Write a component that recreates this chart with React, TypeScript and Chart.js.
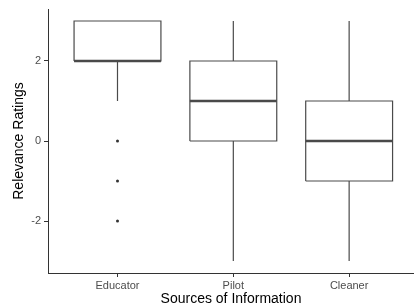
import React, { useEffect, useRef } from 'react';
import { Chart, registerables } from 'chart.js';

Chart.register(...registerables);

const categories = ['Educator', 'Pilot', 'Cleaner'];
const lowerWhisker = [1, -3, -3];
const q1 = [2, 0, -1];
const median = [2, 1, 0];
const q3 = [3, 2, 1];
const upperWhisker = [3, 3, 3];
const outliers: number[][] = [[0, -1, -2], [], []];
const yTicks = [-2, 0, 2];

const BOX_HALF = 0.375;
const LINE = '#4a4a4a';

export default function App() {
  const ref = useRef<HTMLCanvasElement | null>(null);

  useEffect(() => {
    document.body.style.margin = '0';
    if (!ref.current) return;

    const datasets: any[] = [];
    const lineDs = (data: { x: number; y: number }[], width: number) => ({
      type: 'scatter',
      data,
      showLine: true,
      borderColor: LINE,
      backgroundColor: LINE,
      borderWidth: width,
      pointRadius: 0,
      pointHoverRadius: 0,
      fill: false,
      tension: 0,
    });

    categories.forEach((_, i) => {
      const l = i - BOX_HALF;
      const r = i + BOX_HALF;
      datasets.push(
        lineDs(
          [
            { x: l, y: q1[i] },
            { x: r, y: q1[i] },
            { x: r, y: q3[i] },
            { x: l, y: q3[i] },
            { x: l, y: q1[i] },
          ],
          1.2
        )
      );
      datasets.push(
        lineDs(
          [
            { x: l, y: median[i] },
            { x: r, y: median[i] },
          ],
          2.6
        )
      );
      if (lowerWhisker[i] < q1[i]) {
        datasets.push(
          lineDs(
            [
              { x: i, y: lowerWhisker[i] },
              { x: i, y: q1[i] },
            ],
            1.2
          )
        );
      }
      if (upperWhisker[i] > q3[i]) {
        datasets.push(
          lineDs(
            [
              { x: i, y: q3[i] },
              { x: i, y: upperWhisker[i] },
            ],
            1.2
          )
        );
      }
    });

    datasets.push({
      type: 'scatter',
      data: outliers.flatMap((arr, i) => arr.map((v) => ({ x: i, y: v }))),
      backgroundColor: '#333333',
      borderColor: '#333333',
      borderWidth: 0,
      pointRadius: 1.5,
      showLine: false,
    });

    const font = "'Liberation Sans', Arial, sans-serif";

    const chart = new Chart(ref.current, {
      type: 'scatter',
      data: { datasets },
      options: {
        animation: false,
        responsive: true,
        maintainAspectRatio: false,
        layout: { autoPadding: false, padding: { top: 9, left: 0, right: 0, bottom: 0 } },
        plugins: {
          legend: { display: false },
          tooltip: { enabled: false },
        },
        scales: {
          x: {
            type: 'linear',
            min: -0.6,
            max: 2.56,
            afterBuildTicks: (s: any) => {
              s.ticks = categories.map((_, i) => ({ value: i }));
            },
            afterFit: (s: any) => {
              s.height = 34;
            },
            ticks: {
              autoSkip: false,
              maxRotation: 0,
              padding: 2,
              color: '#4d4d4d',
              font: { family: font, size: 11 },
              callback: (v: any) => categories[v as number] ?? '',
            },
            grid: {
              display: true,
              drawOnChartArea: false,
              drawTicks: true,
              tickLength: 4,
              color: '#333333',
            },
            border: { display: true, color: '#333333', width: 1 },
            title: {
              display: true,
              text: 'Sources of Information',
              color: '#000000',
              font: { family: font, size: 14, lineHeight: 1.2 },
              padding: { top: 0, bottom: -1 },
            },
          },
          y: {
            type: 'linear',
            min: -3.3,
            max: 3.3,
            afterBuildTicks: (s: any) => {
              s.ticks = yTicks.map((v) => ({ value: v }));
            },
            afterFit: (s: any) => {
              s.width = 48;
            },
            ticks: {
              padding: 3,
              color: '#4d4d4d',
              font: { family: font, size: 11, lineHeight: 1 },
              callback: (v: any) => String(v),
            },
            grid: {
              display: true,
              drawOnChartArea: false,
              drawTicks: true,
              tickLength: 4,
              color: '#333333',
            },
            border: { display: true, color: '#333333', width: 1 },
            title: {
              display: true,
              text: 'Relevance Ratings',
              color: '#000000',
              font: { family: font, size: 14, lineHeight: 1.2 },
              padding: { top: 11, bottom: 0 },
            },
          },
        },
      } as any,
    });

    return () => chart.destroy();
  }, []);

  return (
    <div style={{ width: 414, height: 307, position: 'relative' }}>
      <canvas ref={ref} />
    </div>
  );
}
